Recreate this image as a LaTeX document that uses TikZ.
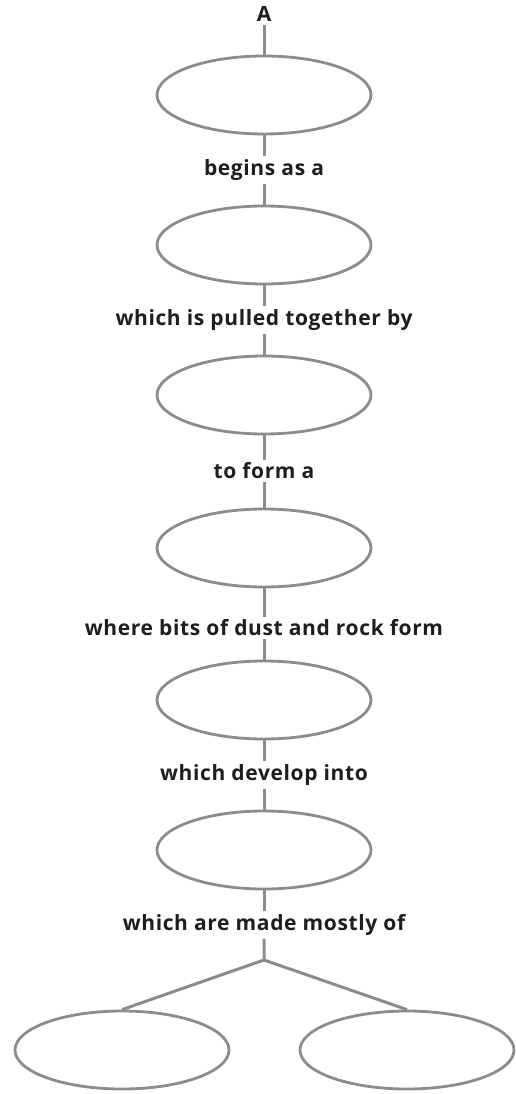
\documentclass[tikz,border=0pt]{standalone}
\usepackage{fontspec}
\setsansfont[LetterSpace=3]{Open Sans}
\usepackage{tikz}
\usetikzlibrary{positioning, shapes.geometric}
\definecolor{mapLine}{HTML}{8C8C8C}
\definecolor{mapText}{HTML}{1E1E1E}

\begin{document}
\begin{tikzpicture}[x=1pt, y=-1pt,
    bubble/.style={ellipse, draw=mapLine, line width=2.8pt,
      minimum width=214pt, minimum height=78pt, inner sep=0pt},
    linkword/.style={font=\sffamily\bfseries\fontsize{21}{24}\selectfont,
      text=mapText, inner sep=3pt},
    link/.style={draw=mapLine, line width=3pt}]
  \useasboundingbox[fill=white] (0,0) rectangle (515,1094);
  \node[linkword] (l0) at (264,14) {A};
  % chain of empty bubbles with the linking words below them
  \foreach \k/\ey/\ly/\txt in
    {1/95/170/begins as a, 2/245/320/which is pulled together by,
     3/395/471/to form a, 4/548/628/where bits of dust and rock form,
     5/700/775/which develop into, 6/850/925/which are made mostly of}{
    \node[bubble] (e\k) at (264,\ey) {};
    \node[linkword] (l\k) at (264,\ly) {\txt};
  }
  \foreach \k [evaluate=\k as \j using int(\k-1)] in {1,...,6}{
    \draw[link] (l\j) -- (e\k);
    \draw[link] (e\k) -- (l\k);
  }
  % fork into the two last bubbles
  \coordinate (fork) at (264,960);
  \node[bubble] (left) at (122,1050) {};
  \node[bubble] (right) at (407,1050) {};
  \draw[link] (l6) -- (fork) -- (left.north);
  \draw[link] (fork) -- (right.north);
\end{tikzpicture}
\end{document}
